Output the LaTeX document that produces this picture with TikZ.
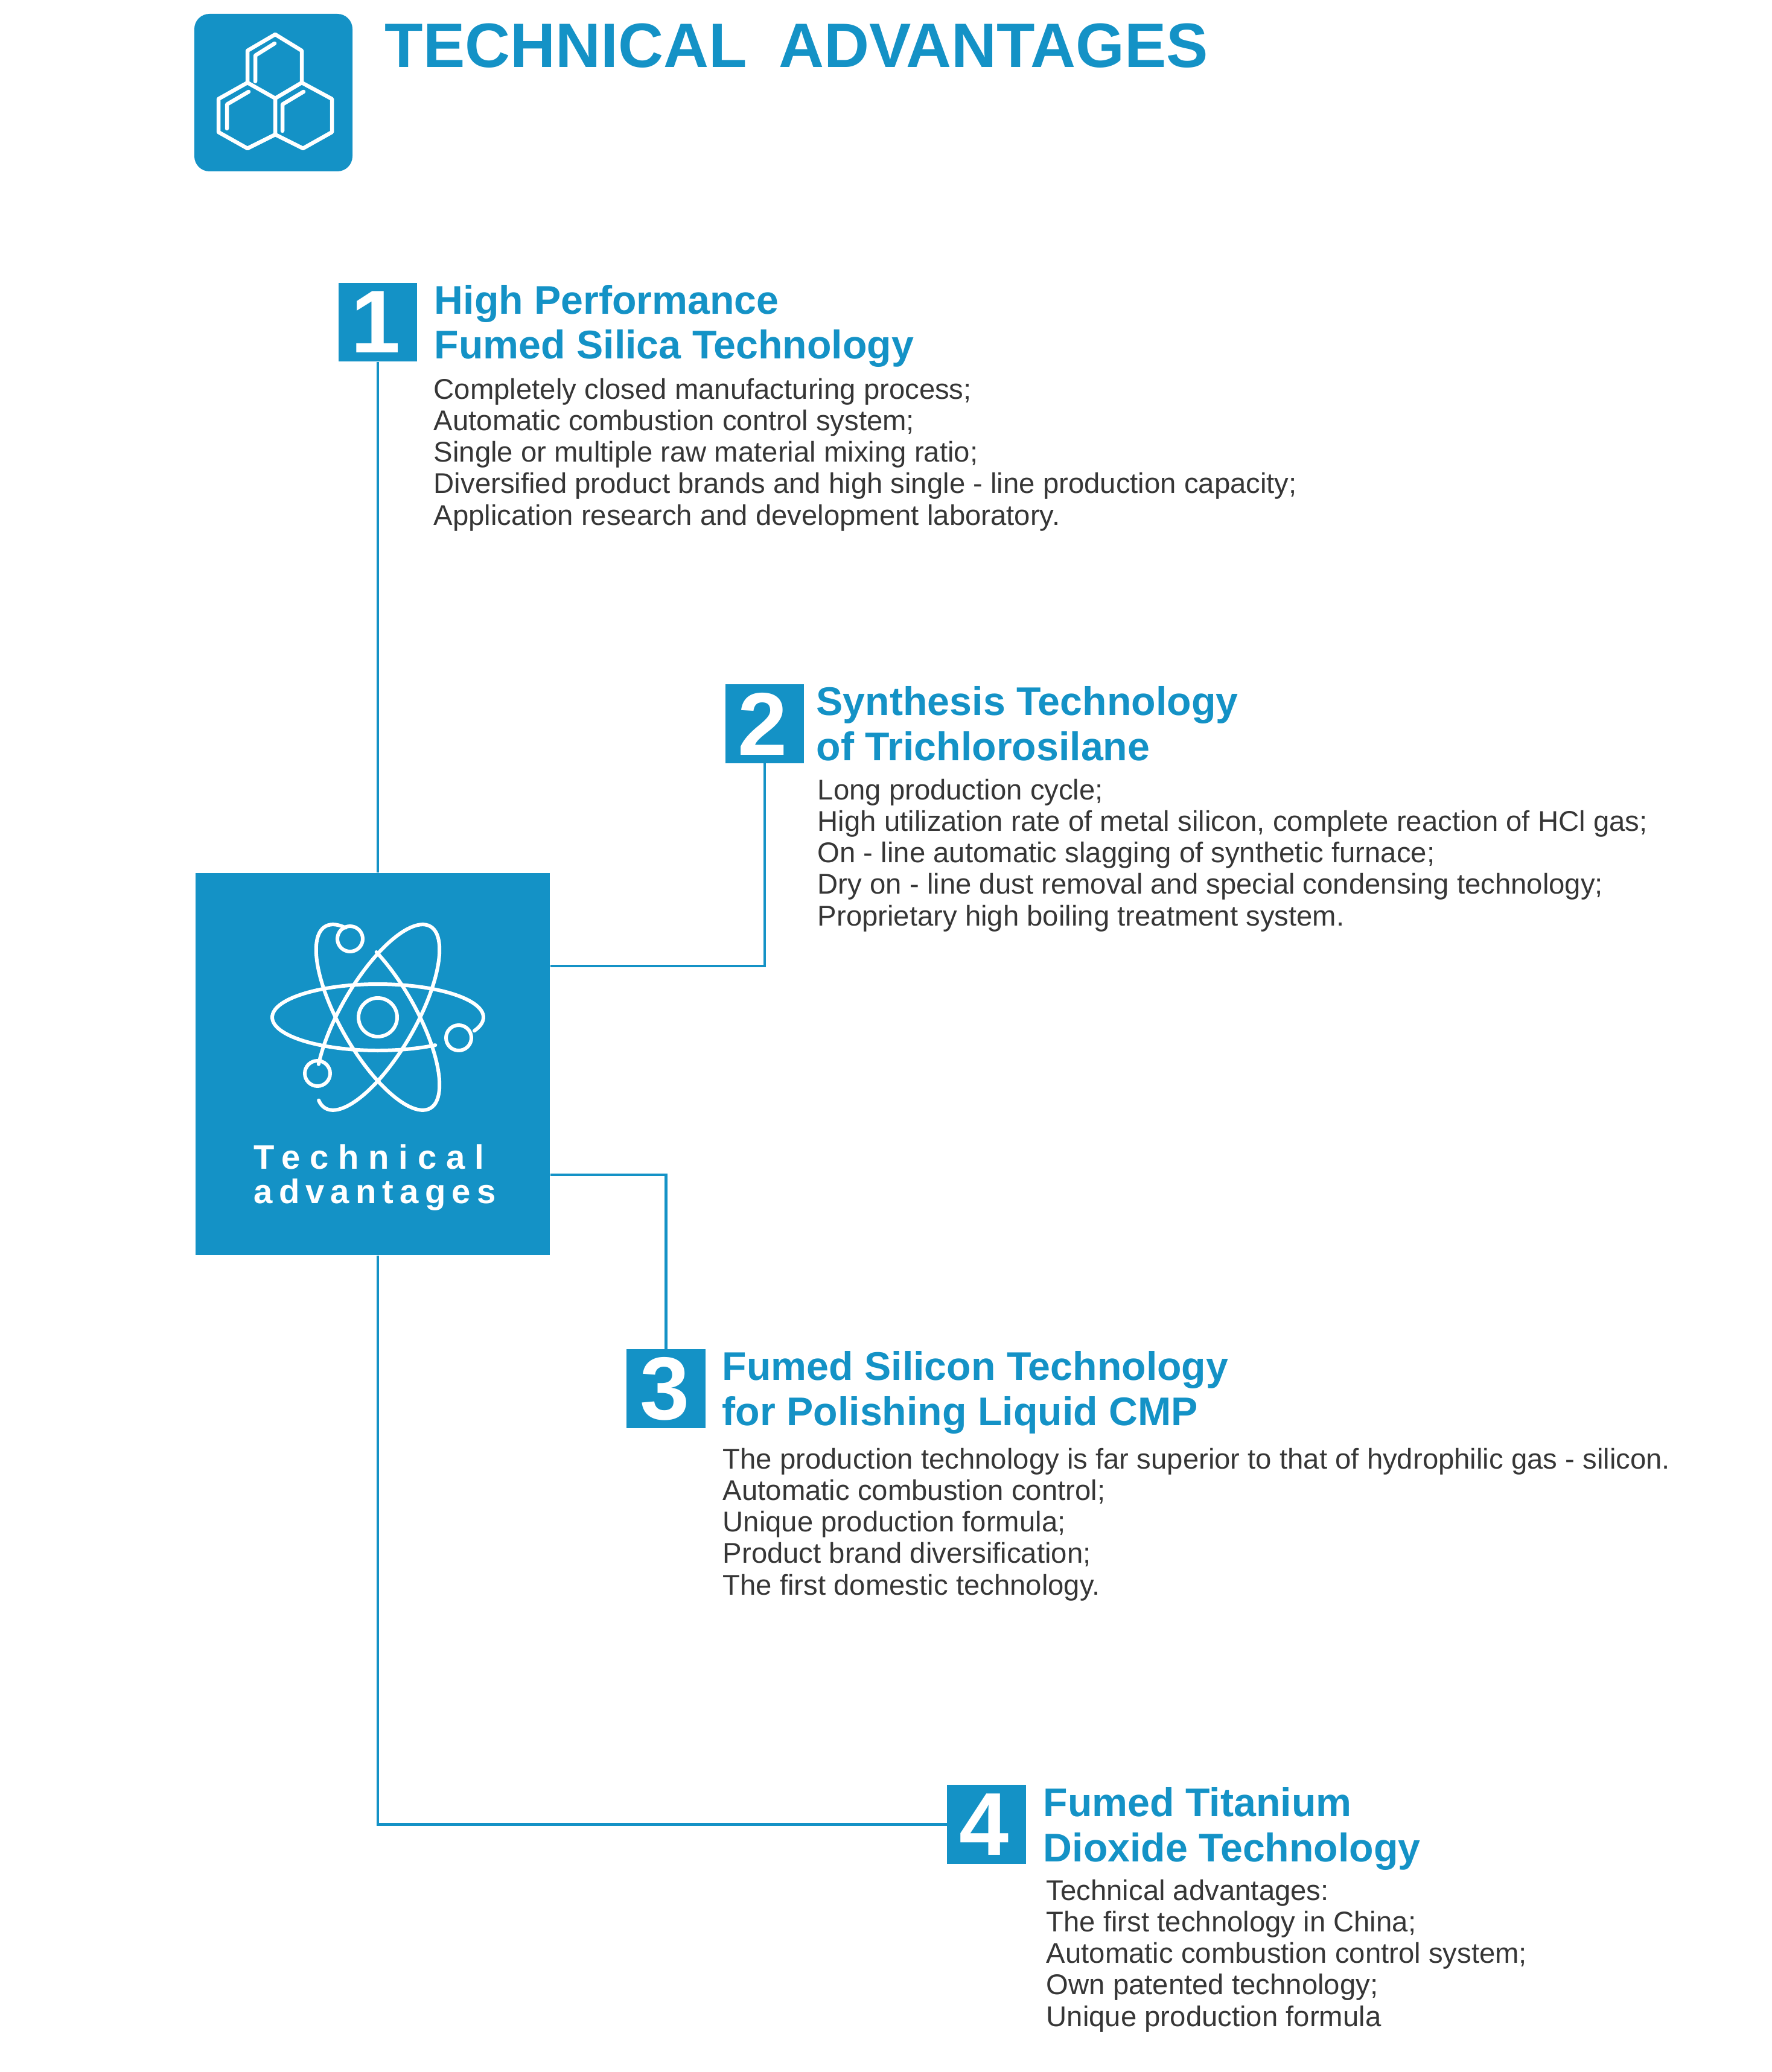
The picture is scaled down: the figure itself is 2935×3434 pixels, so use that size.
\documentclass[tikz,border=0pt]{standalone}
\usepackage{fontspec}
\setmainfont{Liberation Sans}
\newfontfamily\spacedfont[LetterSpace=28]{Liberation Sans}
\newfontfamily\tightfont[LetterSpace=18]{Liberation Sans}
\definecolor{techblue}{HTML}{1492C6}
\definecolor{bodygray}{HTML}{363636}
\tikzset{
    numbox/.style={fill=techblue,minimum size=1.3cm,inner sep=0pt,text=white,font=\fontsize{42}{42}\selectfont\bfseries},
    headtext/.style={anchor=base west,inner sep=0pt,align=left,text=techblue,font=\fontsize{18.85}{21.2}\selectfont\bfseries},
    bodytext/.style={anchor=base west,inner sep=0pt,align=left,text=bodygray,font=\fontsize{13.45}{14.8}\selectfont},
    link/.style={draw=techblue,line width=1.35pt},
    whiteline/.style={draw=white,line width=1.7pt,line join=round,line cap=round},
    logoline/.style={whiteline,line width=1.85pt},
}
\begin{document}
\begin{tikzpicture}[x=0.01cm,y=-0.01cm]
    \useasboundingbox (0,0) rectangle (2935,3434);

    % title and logo
    \fill[techblue,rounded corners=0.25cm] (322,23) rectangle (584,284);
    \draw[logoline] (456,57) -- (500,84) -- (500,137) -- (456,163) -- (410,137) -- (410,84) -- cycle;
    \draw[logoline] (410,137) -- (362,164) -- (362,219) -- (410,246) -- (456,223) -- (456,163);
    \draw[logoline] (500,137) -- (550,164) -- (550,219) -- (502,246) -- (456,223);
    \draw[logoline] (455,72) -- (423,92) -- (423,135);
    \draw[logoline] (412,152) -- (376,173) -- (376,213);
    \draw[logoline] (503,152) -- (468,173) -- (468,217);
    \node[anchor=base west,inner sep=0pt,text=techblue,font=\fontsize{29.55}{30}\selectfont\bfseries] (title) at (637,112) {TECHNICAL\hspace{0.5em}ADVANTAGES};

    % centre box
    \node[fill=techblue,minimum width=5.87cm,minimum height=6.33cm,inner sep=0pt] (tech) at (617.5,1763.5) {};
    \foreach \r/\a/\b/\rx/\ry in {0/57/384/175/55,120/57/387/174/62,240/48/375/174/62}{
    \draw[whiteline,rotate around={\r:(626,1686)}] plot[domain=\a:\b,samples=90,smooth] ({626+\rx*cos(\x)},{1686+\ry*sin(\x)});
    }
    \draw[whiteline] (626,1686) circle (32);
    \draw[whiteline] (580,1556) circle (21);
    \draw[whiteline] (760,1720) circle (21);
    \draw[whiteline] (526,1779) circle (21);
    \node[anchor=base west,inner sep=0pt,align=left,text=white,font=\fontsize{16}{16.2}\selectfont\bfseries] (techlabel) at (420,1994) {{\spacedfont\bfseries Technical}\\{\tightfont\bfseries advantages}};

    % numbered boxes
    \node[numbox] (num1) at (626,534) {\kern-2pt 1};
    \node[numbox] (num2) at (1267,1199.5) {\kern-2pt 2};
    \node[numbox] (num3) at (1103.5,2301.5) {\kern-1pt 3};
    \node[numbox] (num4) at (1634.5,3023.5) {\kern-2pt 4};

    \coordinate (tap2) at (tech.east |- 0,1601);
    \coordinate (tap3) at (tech.east |- 0,1947);
    \coordinate (tap4) at (num1.south |- tech.south);

    \draw[link] (num1.south) -- (num1.south |- tech.north);
    \draw[link] (tap2) -| (num2.south);
    \draw[link] (tap3) -| (num3.north);
    \draw[link] (tap4) |- (num4.west);

    % texts
    \node[headtext] (head1) at (719,595) {High Performance\\Fumed Silica Technology};
    \node[bodytext] (body1) at (718,870) {Completely closed manufacturing process;\\Automatic combustion control system;\\Single or multiple raw material mixing ratio;\\Diversified product brands and high single - line production capacity;\\Application research and development laboratory.};

    \node[headtext] (head2) at (1352,1260) {Synthesis Technology\\of Trichlorosilane};
    \node[bodytext] (body2) at (1354,1534) {Long production cycle;\\High utilization rate of metal silicon, complete reaction of HCl gas;\\On - line automatic slagging of synthetic furnace;\\Dry on - line dust removal and special condensing technology;\\Proprietary high boiling treatment system.};

    \node[headtext] (head3) at (1196,2362) {Fumed Silicon Technology\\for Polishing Liquid CMP};
    \node[bodytext] (body3) at (1197,2643) {The production technology is far superior to that of hydrophilic gas - silicon.\\Automatic combustion control;\\Unique production formula;\\Product brand diversification;\\The first domestic technology.};

    \node[headtext] (head4) at (1728,3085) {Fumed Titanium\\Dioxide Technology};
    \node[bodytext] (body4) at (1733,3358) {Technical advantages:\\The first technology in China;\\Automatic combustion control system;\\Own patented technology;\\Unique production formula};
\end{tikzpicture}
\end{document}
